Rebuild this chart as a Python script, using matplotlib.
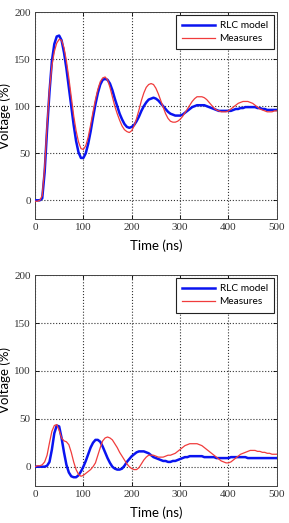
"""Step response of the line: RLC model vs measures, two observation points."""
import numpy as np
import matplotlib
matplotlib.use('Agg')
import matplotlib.pyplot as plt

C_MODEL = '#0a14f0'
C_MEAS = '#f03c3c'

# time axis, 5 ns steps
t = np.arange(0, 505, 5)

# top panel (voltage in %)
top_model = [0, 0, 0, 2, 30, 75, 115, 148, 166, 174,
             175, 170, 157, 140, 120, 100, 80, 63, 51, 45,
             45, 50, 60, 73, 88, 102, 114, 123, 128, 129,
             128, 124, 117, 108, 100, 92, 86, 81, 78, 77,
             78, 80, 84, 89, 95, 100, 104, 107, 108, 109,
             108, 106, 103, 100, 97, 94, 92, 91, 90, 90,
             90, 91, 93, 95, 97, 99, 100, 101, 101, 101,
             101, 100, 99, 98, 97, 96, 95, 95, 95, 95,
             95, 95, 96, 97, 97, 98, 98, 99, 99, 99,
             99, 99, 98, 98, 97, 97, 96, 96, 96, 96, 96]
top_meas = [-1, -1, 0, 5, 35, 80, 118, 143, 158, 167,
            171, 170, 162, 148, 130, 110, 90, 74, 62, 55,
            54, 58, 67, 80, 94, 107, 118, 126, 130, 131,
            128, 120, 110, 100, 92, 85, 79, 75, 73, 72,
            74, 79, 87, 96, 106, 114, 120, 123, 124, 123,
            119, 113, 106, 99, 92, 87, 84, 83, 83, 84,
            86, 89, 93, 97, 101, 105, 108, 110, 110, 110,
            109, 107, 104, 101, 98, 96, 95, 94, 94, 94,
            95, 97, 99, 101, 103, 104, 105, 105, 105, 104,
            103, 101, 99, 97, 96, 95, 94, 94, 94, 95, 95]

# bottom panel
bot_model = [0, 0, 0, 0, 0, 1, 5, 18, 35, 43,
             42, 30, 15, 2, -6, -10, -11, -11, -9, -5,
             0, 6, 13, 20, 25, 28, 28, 26, 21, 15,
             9, 4, 0, -2, -3, -3, -2, 1, 5, 8,
             11, 13, 15, 16, 16, 16, 15, 14, 12, 10,
             9, 8, 7, 6, 6, 5, 5, 6, 6, 7,
             8, 9, 10, 10, 11, 11, 11, 11, 11, 11,
             10, 10, 10, 10, 10, 9, 9, 9, 9, 9,
             9, 10, 10, 10, 10, 10, 10, 10, 9, 9,
             9, 9, 9, 9, 9, 9, 9, 9, 9, 9, 9]
bot_meas = [0, 1, 1, 2, 5, 12, 25, 37, 43, 44,
            38, 30, 27, 26, 23, 15, 5, -3, -8, -10,
            -9, -7, -5, -3, 0, 4, 12, 20, 27, 30,
            31, 30, 28, 24, 20, 15, 11, 7, 3, 0,
            -2, -3, -3, -1, 3, 7, 10, 12, 12, 12,
            11, 10, 10, 10, 11, 12, 12, 13, 14, 16,
            18, 20, 22, 23, 24, 24, 24, 24, 23, 22,
            20, 18, 16, 14, 12, 10, 8, 6, 5, 4,
            4, 5, 7, 9, 11, 13, 14, 15, 16, 17,
            17, 17, 16, 16, 15, 15, 14, 14, 13, 13, 13]

xticks = [0, 100, 200, 300, 400, 500]
yticks = [0, 50, 100, 150, 200]

fig = plt.figure(figsize=(2.89, 5.23), dpi=100)
ax1 = fig.add_axes([0.121, 0.581, 0.837, 0.396])
ax2 = fig.add_axes([0.121, 0.071, 0.837, 0.403])

for ax, m, r in [(ax1, top_model, top_meas), (ax2, bot_model, bot_meas)]:
    ax.plot(t, m, '-', color=C_MODEL, linewidth=1.8, label='RLC model', zorder=3)
    ax.plot(t, r, '-', color=C_MEAS, linewidth=0.9, label='Measures', zorder=4)
    ax.set_xlim(0, 500)
    ax.set_ylim(-20, 200)
    ax.set_xticks(xticks)
    ax.set_xticklabels([str(v) for v in xticks], family='Liberation Serif')
    ax.set_yticks(yticks)
    ax.set_yticklabels([str(v) for v in yticks], family='Liberation Serif')
    ax.tick_params(direction='in', top=True, right=True, length=3, width=0.6,
                   labelsize=8, labelcolor='#333333', pad=3)
    ax.grid(True, linestyle=':', color='#333333', linewidth=0.8)
    for s in ax.spines.values():
        s.set_linewidth(0.7)
        s.set_color('#444444')
    ax.set_xlabel('Time (ns)', family='Lato', fontsize=9.5, labelpad=5)
    ax.set_ylabel('Voltage (%)', family='Lato', fontsize=9.5, labelpad=2)
    leg = ax.legend(loc='upper right', prop={'family': 'Lato', 'size': 7.3},
                    handlelength=3.2, fancybox=False, framealpha=1,
                    borderpad=0.6, labelspacing=0.4, handletextpad=0.5,
                    borderaxespad=0.3)
    leg.get_frame().set_edgecolor('#222222')
    leg.get_frame().set_linewidth(0.8)

plt.savefig('out.png', dpi=100)
print('Saved out.png')
